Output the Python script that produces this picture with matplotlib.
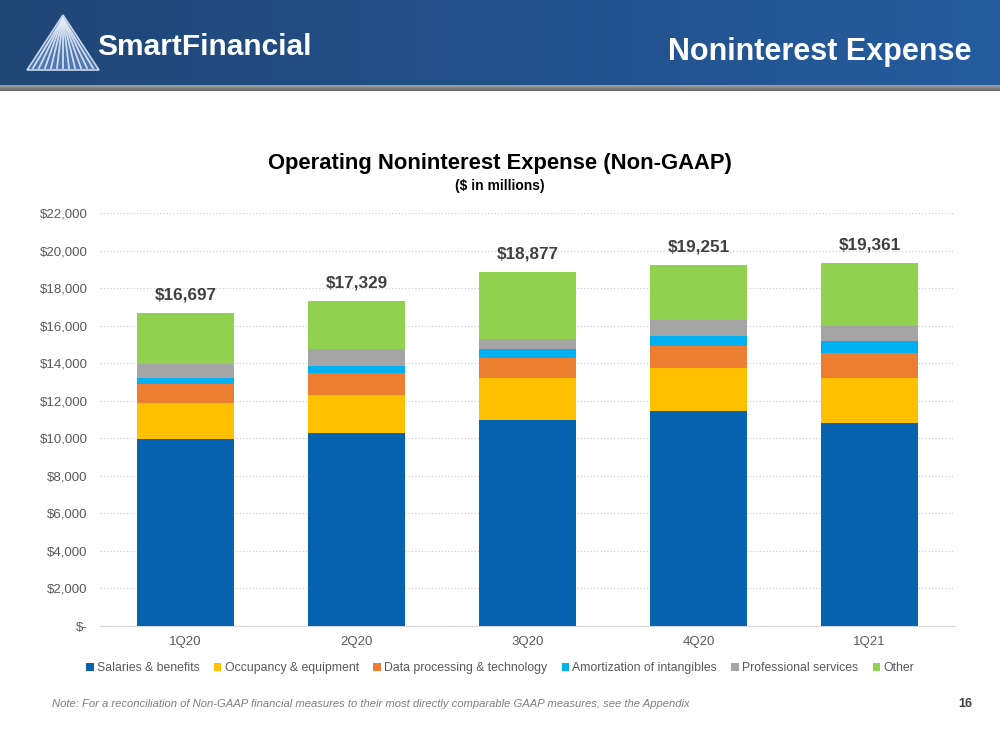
import numpy as np
import matplotlib.pyplot as plt
from matplotlib.patches import Polygon
from matplotlib.ticker import FuncFormatter

plt.rcParams['font.family'] = ['Liberation Sans', 'DejaVu Sans']

# Данные ($ in millions, по графику)
quarters = ['1Q20', '2Q20', '3Q20', '4Q20', '1Q21']
totals = [16697, 17329, 18877, 19251, 19361]
salaries = [9960, 10300, 10975, 11470, 10830]
occupancy = [1920, 2005, 2240, 2275, 2365]
data_proc = [1010, 1155, 1080, 1170, 1350]
amortization = [340, 410, 445, 535, 655]
professional = [710, 870, 565, 835, 765]
other = [2757, 2589, 3572, 2966, 3396]

series_names = ['Salaries & benefits', 'Occupancy & equipment', 'Data processing & technology',
                'Amortization of intangibles', 'Professional services', 'Other']
series_values = [salaries, occupancy, data_proc, amortization, professional, other]
colors = ['#0563B0', '#FFC000', '#ED7D31', '#00B0F0', '#A5A5A5', '#92D050']

fig = plt.figure(figsize=(10, 7.5), dpi=100)

# Шапка слайда
bg = fig.add_axes([0, 0, 1, 1], zorder=-10)
bg.set_xlim(0, 1000)
bg.set_ylim(750, 0)
bg.axis('off')
grad = np.linspace(0, 1, 256).reshape(1, -1)
top_left = np.array([32, 70, 118]) / 255
top_right = np.array([37, 92, 158]) / 255
img = top_left + (top_right - top_left) * grad[..., None]
bg.imshow(img, extent=[0, 1000, 85, 0], aspect='auto')
gray = np.linspace(0.62, 0.42, 6).reshape(-1, 1)
bg.imshow(np.repeat(gray[..., None], 3, axis=2) * np.ones((1, 2, 3)),
          extent=[0, 1000, 91, 85], aspect='auto')

# Логотип: треугольник с лучами
bg.add_patch(Polygon([[27, 70], [99, 70], [63, 15]], closed=True,
                     facecolor='#4f78b0', edgecolor='#c9d6ea', lw=1.2))
for dx in np.linspace(-30, 30, 11):
    bg.plot([63, 63 + dx], [18, 68], color='#dfe8f5', lw=1.3, alpha=0.9)
bg.text(97, 47, 'SmartFinancial', color='white', fontsize=21.5, fontweight='bold',
        va='center', ha='left')
bg.text(972, 52, 'Noninterest Expense', color='white', fontsize=22, fontweight='bold',
        va='center', ha='right')

# Подвал
bg.text(52, 704, 'Note: For a reconciliation of Non-GAAP financial measures to their most directly '
        'comparable GAAP measures, see the Appendix',
        color='#7f7f7f', fontsize=8.1, style='italic', va='center', ha='left')
bg.text(972, 704, '16', color='#404040', fontsize=9, fontweight='bold', va='center', ha='right')

# Заголовок графика
bg.text(500, 163, 'Operating Noninterest Expense (Non-GAAP)', color='black', fontsize=15.8,
        fontweight='bold', ha='center', va='center')
bg.text(500, 186, '($ in millions)', color='black', fontsize=10, fontweight='bold',
        ha='center', va='center')

# Основной график
ax = fig.add_axes([0.100, 1 - 626 / 750, 0.855, 413 / 750])
x = np.arange(len(quarters))
bottom = np.zeros(len(quarters))
for name, vals, c in zip(series_names, series_values, colors):
    ax.bar(x, vals, bottom=bottom, width=0.57, color=c, label=name, zorder=3)
    bottom += np.array(vals)

for xi, t, b in zip(x, totals, bottom):
    ax.annotate(f'${t:,}', xy=(xi, b), xytext=(0, 7), textcoords='offset points',
                ha='center', va='bottom', fontsize=12.3, fontweight='bold', color='#404040')

ax.set_xlim(-0.5, len(quarters) - 0.5)
ax.set_ylim(0, 22000)
ax.set_yticks(np.arange(0, 22001, 2000))
ax.yaxis.set_major_formatter(FuncFormatter(lambda v, p: '$-' if v == 0 else f'${v:,.0f}'))
ax.set_xticks(x)
ax.set_xticklabels(quarters)
ax.tick_params(axis='both', length=0, labelsize=9.5, colors='#595959')
ax.tick_params(axis='x', pad=7)
ax.tick_params(axis='y', pad=9)
ax.grid(axis='y', color='#d0d0d0', linestyle=':', linewidth=0.9, zorder=0)
for s in ['top', 'right', 'left']:
    ax.spines[s].set_visible(False)
ax.spines['bottom'].set_color('#d9d9d9')
ax.set_facecolor('none')

fig.legend(loc='center', bbox_to_anchor=(0.5, 1 - 668 / 750), ncol=6, frameon=False,
           fontsize=8.8, handlelength=0.6, handleheight=0.6, handletextpad=0.25,
           columnspacing=1.2, labelcolor='#595959')

fig.savefig('out.png', dpi=100)
